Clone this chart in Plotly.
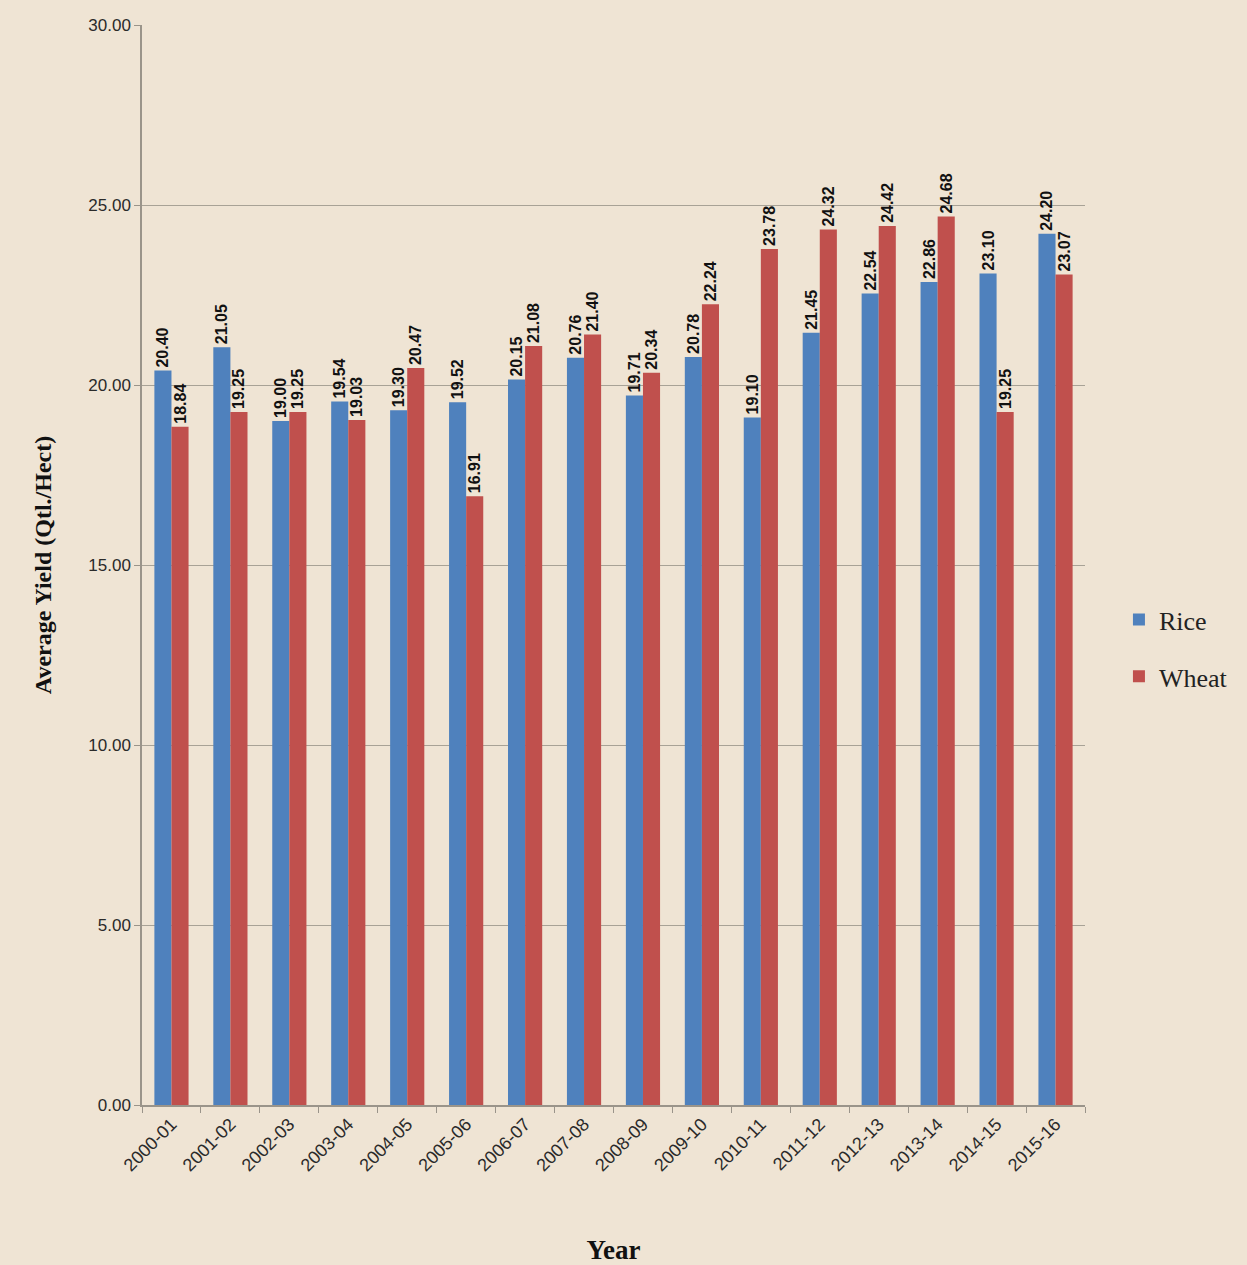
import plotly.graph_objects as go

years = ["2000-01", "2001-02", "2002-03", "2003-04", "2004-05", "2005-06",
         "2006-07", "2007-08", "2008-09", "2009-10", "2010-11", "2011-12",
         "2012-13", "2013-14", "2014-15", "2015-16"]
rice = [20.40, 21.05, 19.00, 19.54, 19.30, 19.52, 20.15, 20.76,
        19.71, 20.78, 19.10, 21.45, 22.54, 22.86, 23.10, 24.20]
wheat = [18.84, 19.25, 19.25, 19.03, 20.47, 16.91, 21.08, 21.40,
         20.34, 22.24, 23.78, 24.32, 24.42, 24.68, 19.25, 23.07]

BG = "#EFE4D4"
SERIF = "Liberation Serif, Times New Roman, serif"
SANS = "Liberation Sans, Arial, sans-serif"
label_font = dict(family=SANS, size=16, color="#111111")

fig = go.Figure()
for name, vals, color in [("Rice", rice, "#4F81BD"), ("Wheat", wheat, "#C0504D")]:
    fig.add_trace(go.Bar(
        x=years, y=vals, name=name, legendgroup=name,
        marker=dict(color=color, line=dict(width=0)),
        texttemplate="<b>%{y:.2f}</b>",
        textposition="outside",
        textangle=-90,
        textfont=label_font,
        constraintext="none",
        cliponaxis=False,
    ))

fig.update_layout(
    width=1247, height=1265,
    paper_bgcolor=BG, plot_bgcolor=BG,
    barmode="group",
    bargap=0.42, bargroupgap=0,
    margin=dict(l=142, r=162, t=25, b=160, autoexpand=False),
    showlegend=True,
    legend=dict(
        x=1.036, y=0.423, xanchor="left", yanchor="middle",
        font=dict(family=SERIF, size=26, color="#222222"),
        bgcolor="rgba(0,0,0,0)", itemwidth=30, tracegroupgap=20,
    ),
    xaxis=dict(
        type="category",
        title=dict(text="<b>Year</b>", standoff=66,
                   font=dict(family=SERIF, size=27, color="#111111")),
        tickangle=-45,
        tickfont=dict(family=SANS, size=18, color="#2a2a2a"),
        showline=True, linecolor="#9a948a", linewidth=1.5,
        ticks="outside", tickcolor="#9a948a", ticklen=6,
        tickson="boundaries",
        showgrid=False,
    ),
    yaxis=dict(
        title=dict(text="<b>Average Yield (Qtl./Hect)</b>", standoff=30,
                   font=dict(family=SERIF, size=24, color="#111111")),
        range=[0, 30], dtick=5, tickformat=".2f",
        tickfont=dict(family=SANS, size=17, color="#2a2a2a"),
        showline=True, linecolor="#9a948a", linewidth=1.5,
        ticks="outside", tickcolor="#9a948a", ticklen=6,
        showgrid=True, gridcolor="#a8a296", gridwidth=1,
        zeroline=False,
    ),
)

fig.write_html("out.html", config={"displayModeBar": False},
               post_script="document.body.style.margin='0';")
